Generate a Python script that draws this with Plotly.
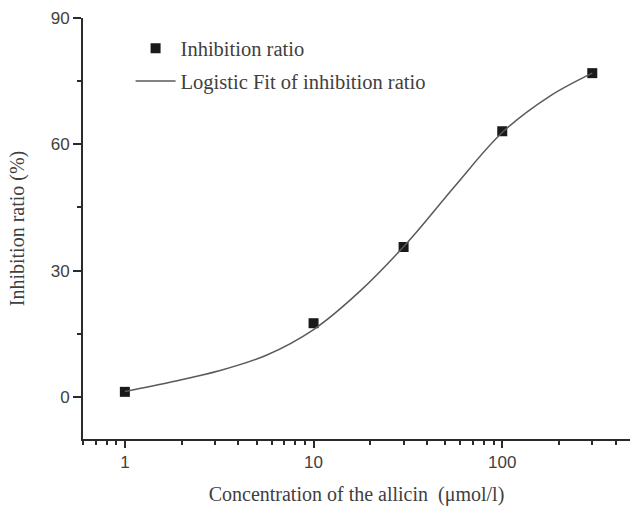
import math
import plotly.graph_objects as go

# Measured data
conc = [1, 10, 30, 100, 300]
inhibition = [1.2, 17.5, 35.6, 63.1, 76.9]

# Logistic fit curve at quarter-decade steps
fit_x = [1.0, 1.78, 3.16, 5.62, 10.0, 17.8, 31.6, 56.2, 100.0, 178.0, 300.0]
fit_y = [1.3, 3.6, 6.2, 9.9, 16.0, 25.3, 36.8, 50.1, 62.8, 71.4, 76.9]

x_major = [1, 10, 100]
x_minor = [0.6, 0.7, 0.8, 0.9, 2, 3, 4, 5, 6, 7, 8, 9, 20, 30, 40, 50, 60, 70, 80, 90, 200, 300, 400]
y_major = [0, 30, 60, 90]
y_minor = [15, 45, 75]

ink = "#2b2b2b"
txt = "#404040"
serif = "Liberation Serif, Times New Roman, serif"
sans = "Liberation Sans, Arial, sans-serif"

fig = go.Figure()
fig.add_trace(go.Scatter(
    x=conc, y=inhibition, mode="markers", name="Inhibition ratio",
    legendgroup="a",
    marker=dict(symbol="square", size=10, color="#1a1a1a",
                line=dict(color="#1a1a1a", width=0)),
))
fig.add_trace(go.Scatter(
    x=fit_x, y=fit_y, mode="lines", name="Logistic Fit of inhibition ratio",
    legendgroup="b",
    line=dict(color="#5a5a5a", width=1.5, shape="spline", smoothing=1.0),
))

fig.update_layout(
    width=630, height=507,
    margin=dict(l=83, r=0, t=18, b=68),
    paper_bgcolor="white", plot_bgcolor="white",
    showlegend=True,
    legend=dict(
        x=0.087, y=0.975, xanchor="left", yanchor="top",
        bgcolor="rgba(0,0,0,0)", borderwidth=0,
        font=dict(family=serif, size=20.5, color=txt),
        tracegroupgap=3, itemwidth=40,
    ),
    xaxis=dict(
        type="log",
        range=[math.log10(0.6), 2.677],
        tickmode="array", tickvals=x_major, ticktext=["1", "10", "100"],
        ticks="outside", ticklen=7, tickwidth=1.5, tickcolor=ink,
        minor=dict(tickmode="array", tickvals=x_minor, ticks="outside",
                   ticklen=4, tickwidth=1.5, tickcolor=ink, showgrid=False),
        showline=True, linecolor=ink, linewidth=2,
        showgrid=False, zeroline=False,
        tickfont=dict(family=sans, size=17, color=txt),
        title=dict(text="Concentration of the allicin  (μmol/l)",
                   font=dict(family=serif, size=20, color=txt),
                   standoff=16),
    ),
    yaxis=dict(
        range=[-10, 90],
        tickmode="array", tickvals=y_major,
        ticks="outside", ticklen=8, tickwidth=1.5, tickcolor=ink,
        minor=dict(tickmode="array", tickvals=y_minor, ticks="outside",
                   ticklen=4, tickwidth=1.5, tickcolor=ink, showgrid=False),
        showline=True, linecolor=ink, linewidth=2,
        showgrid=False, zeroline=False,
        tickfont=dict(family=sans, size=17, color=txt),
        title=dict(text="Inhibition ratio (%)",
                   font=dict(family=serif, size=20, color=txt),
                   standoff=21),
    ),
)

fig.write_html("out.html")
